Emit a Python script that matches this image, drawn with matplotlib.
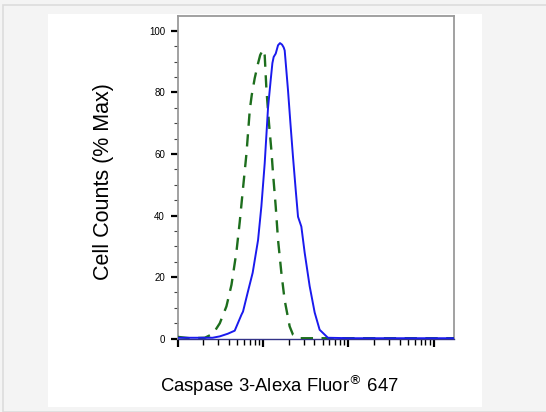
import numpy as np
import matplotlib
matplotlib.use("Agg")
import matplotlib.pyplot as plt
from matplotlib.patches import Rectangle
from matplotlib.ticker import LogLocator, MultipleLocator, FixedLocator, NullFormatter

# ---- data (x in fluorescence intensity as log10 decades; y in % of max) ----
blue_x_log = [0.0, 0.20, 0.41, 0.495, 0.588, 0.67, 0.749, 0.767, 0.821, 0.880, 0.943,
              0.982, 1.021, 1.060, 1.091, 1.111, 1.126, 1.150, 1.177, 1.200, 1.224,
              1.243, 1.255, 1.294, 1.322, 1.352, 1.384, 1.411, 1.450, 1.489, 1.547,
              1.606, 1.664, 1.761, 2.015, 2.6, 3.243]
blue_y = [0.3, 0.3, 0.3, 0.75, 1.6, 2.6, 7.8, 8.8, 14.9, 21.4, 32.0,
          43.0, 57.0, 75.0, 84.0, 89.5, 91.5, 92.6, 95.3, 96.0, 95.5,
          94.6, 93.6, 80.6, 70.0, 59.1, 48.3, 39.6, 36.4, 27.9, 17.1,
          8.5, 2.9, 0.3, 0.15, 0.15, 0.15]

green_x_log = [0.0, 0.144, 0.32, 0.416, 0.495, 0.573, 0.632, 0.690, 0.729, 0.764, 0.807,
               0.846, 0.869, 0.904, 0.943, 0.968, 1.001, 1.021, 1.041, 1.071, 1.099,
               1.118, 1.150, 1.177, 1.216, 1.254, 1.313, 1.352, 1.392, 1.43, 2.0, 3.243]
green_y = [0.6, 0.15, 0.3, 1.6, 5.0, 10.5, 17.5, 28.2, 38.0, 48.0, 60.0,
           74.2, 79.1, 84.6, 89.4, 92.1, 93.9, 92.0, 81.0, 70.0, 61.2,
           53.8, 42.9, 32.1, 21.4, 12.6, 4.0, 1.3, 0.5, 0.15, 0.15, 0.15]

y_ticks = [0, 20, 40, 60, 80, 100]
x_label = "Caspase 3-Alexa Fluor$^{®}$ 647"
y_label = "Cell Counts (% Max)"

blue_x = [10 ** v for v in blue_x_log]
green_x = [10 ** v for v in green_x_log]

W, H = 546, 412
fig = plt.figure(figsize=(W / 100, H / 100), dpi=100)
fig.patch.set_facecolor("#f4f4f4")
# outer border lines and white panel
fig.patches.append(Rectangle((3 / W, 0), 1, 1 - 5 / H, transform=fig.transFigure,
                             facecolor="#f4f4f4", edgecolor="#dcdcdc", lw=1.2, zorder=-3))
fig.patches.append(Rectangle((48 / W, (H - 407) / H), (482 - 48) / W, (407 - 14) / H,
                             transform=fig.transFigure, facecolor="white",
                             edgecolor="none", zorder=-2))

left, right, top, bottom = 177.5, 454.5, 15.7, 339.3
ax = fig.add_axes([left / W, (H - bottom) / H, (right - left) / W, (bottom - top) / H])
ax.set_facecolor("white")

ax.plot(green_x, green_y, color="#1d6e1d", lw=1.7, linestyle=(0, (5.2, 3.6)), zorder=3)
ax.plot(blue_x, blue_y, color="#1a1aee", lw=1.4, zorder=4)

ax.set_xscale("log")
ax.set_xlim(1, 10 ** 3.243)
ax.set_ylim(-0.2, 104.9)

ax.xaxis.set_major_locator(FixedLocator([1, 10, 100, 1000]))
ax.xaxis.set_minor_locator(LogLocator(base=10, subs=np.arange(2, 10), numticks=20))
ax.xaxis.set_major_formatter(NullFormatter())
ax.xaxis.set_minor_formatter(NullFormatter())

ax.yaxis.set_major_locator(FixedLocator(y_ticks))
ax.yaxis.set_minor_locator(MultipleLocator(5))

tick_font = ["Liberation Sans Narrow", "Liberation Sans", "DejaVu Sans"]
ax.set_yticklabels([str(t) for t in y_ticks])
for lbl in ax.get_yticklabels():
    lbl.set_family(tick_font)
    lbl.set_fontsize(7)

ax.tick_params(axis="y", which="major", direction="out", length=5, width=1.6,
               color="black", pad=4)
ax.tick_params(axis="y", which="minor", direction="out", length=3, width=0.8,
               color="#444444")
ax.tick_params(axis="x", which="major", direction="out", length=6, width=1.6,
               color="black")
ax.tick_params(axis="x", which="minor", direction="out", length=4, width=1.0,
               color="black")

for s in ["left", "top", "right"]:
    ax.spines[s].set_color("#9a9a9a")
    ax.spines[s].set_linewidth(1.3)
ax.spines["bottom"].set_color("#333388")
ax.spines["bottom"].set_linewidth(1.0)

fig.text(104 / W, 1 - 182 / H, y_label, rotation=90, ha="center", va="center",
         family=["Liberation Sans", "DejaVu Sans"], fontsize=15.5)
fig.text(160 / W, 1 - 386 / H, x_label, ha="left", va="center",
         family=["Liberation Sans", "DejaVu Sans"], fontsize=13.3)

fig.savefig("out.png", dpi=100, facecolor=fig.get_facecolor())
